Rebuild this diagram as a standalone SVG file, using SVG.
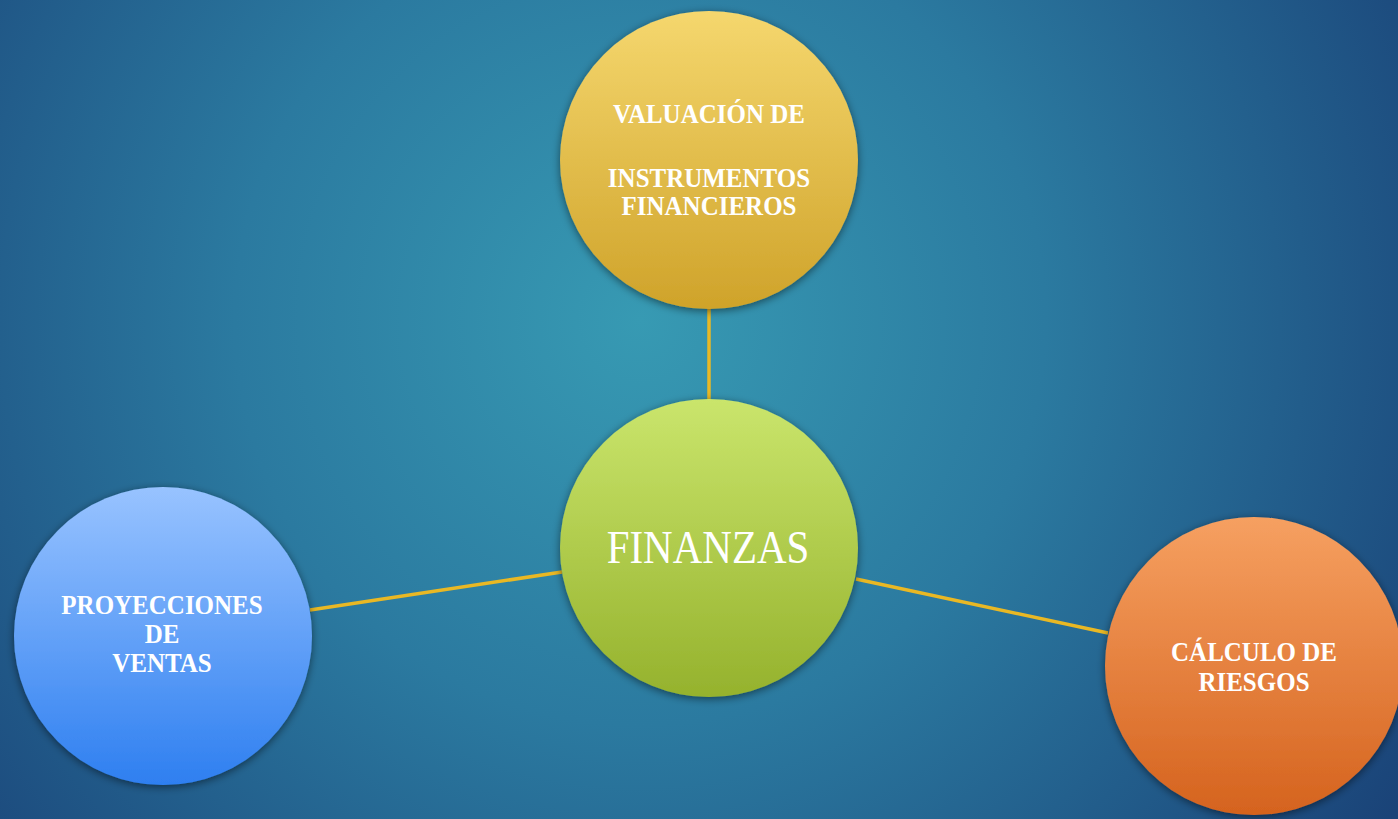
<svg xmlns="http://www.w3.org/2000/svg" width="1398" height="819" viewBox="0 0 1398 819">
<defs>
<radialGradient id="bg" cx="640" cy="320" r="900" gradientUnits="userSpaceOnUse">
<stop offset="0" stop-color="#379ab3"/>
<stop offset="0.45" stop-color="#2b7aa0"/>
<stop offset="1" stop-color="#1a4378"/>
</radialGradient>
<linearGradient id="gY" x1="0" y1="0" x2="0" y2="1">
<stop offset="0" stop-color="#f5d76e"/>
<stop offset="1" stop-color="#cfa32a"/>
</linearGradient>
<linearGradient id="gG" x1="0" y1="0" x2="0" y2="1">
<stop offset="0" stop-color="#cae56c"/>
<stop offset="1" stop-color="#95b22d"/>
</linearGradient>
<linearGradient id="gB" x1="0" y1="0" x2="0" y2="1">
<stop offset="0" stop-color="#98c3ff"/>
<stop offset="1" stop-color="#2e7ff0"/>
</linearGradient>
<linearGradient id="gO" x1="0" y1="0" x2="0" y2="1">
<stop offset="0" stop-color="#f6a061"/>
<stop offset="1" stop-color="#d5631e"/>
</linearGradient>
<filter id="sh" x="-20%" y="-20%" width="140%" height="140%">
<feGaussianBlur in="SourceAlpha" stdDeviation="4"/>
<feOffset dx="0" dy="2" result="b"/>
<feComponentTransfer><feFuncA type="linear" slope="0.5"/></feComponentTransfer>
<feMerge><feMergeNode/><feMergeNode in="SourceGraphic"/></feMerge>
</filter>
</defs>
<style>
.t{font-family:"Liberation Serif","Times New Roman",serif;font-weight:bold;font-size:25px;fill:#ffffff;text-anchor:middle;}
.big{font-family:"Liberation Serif","Times New Roman",serif;font-size:41px;fill:#ffffff;text-anchor:middle;}
.c{stroke:#e9b824;stroke-width:3.5;fill:none;}
</style>
<rect x="0" y="0" width="1398" height="819" fill="url(#bg)"/>
<g id="connectors">
<line class="c" x1="709" y1="308" x2="709" y2="400"/>
<line class="c" x1="310" y1="610" x2="562" y2="572"/>
<line class="c" x1="856" y1="579" x2="1108" y2="633"/>
</g>
<g id="node-valuacion">
<circle cx="709" cy="160" r="149" fill="url(#gY)" filter="url(#sh)"/>
<text class="t" x="709" y="123" transform="matrix(1 0 0 1.12 0 -14.76)">VALUACIÓN DE</text>
<text class="t" x="709" y="187" transform="matrix(1 0 0 1.12 0 -22.44)">INSTRUMENTOS</text>
<text class="t" x="709" y="215" transform="matrix(1 0 0 1.12 0 -25.8)">FINANCIEROS</text>
</g>
<g id="node-finanzas">
<circle cx="709" cy="548" r="149" fill="url(#gG)" filter="url(#sh)"/>
<text class="big" x="708" y="563" transform="matrix(1 0 0 1.12 0 -67.56)">FINANZAS</text>
</g>
<g id="node-proyecciones">
<circle cx="163" cy="636" r="149" fill="url(#gB)" filter="url(#sh)"/>
<text class="t" x="162" y="614" transform="matrix(1 0 0 1.12 0 -73.68)">PROYECCIONES</text>
<text class="t" x="162" y="643" transform="matrix(1 0 0 1.12 0 -77.16)">DE</text>
<text class="t" x="162" y="672" transform="matrix(1 0 0 1.12 0 -80.64)">VENTAS</text>
</g>
<g id="node-calculo">
<circle cx="1254" cy="666" r="149" fill="url(#gO)" filter="url(#sh)"/>
<text class="t" x="1254" y="661" transform="matrix(1 0 0 1.12 0 -79.32)">CÁLCULO DE</text>
<text class="t" x="1254" y="691" transform="matrix(1 0 0 1.12 0 -82.92)">RIESGOS</text>
</g>
</svg>
